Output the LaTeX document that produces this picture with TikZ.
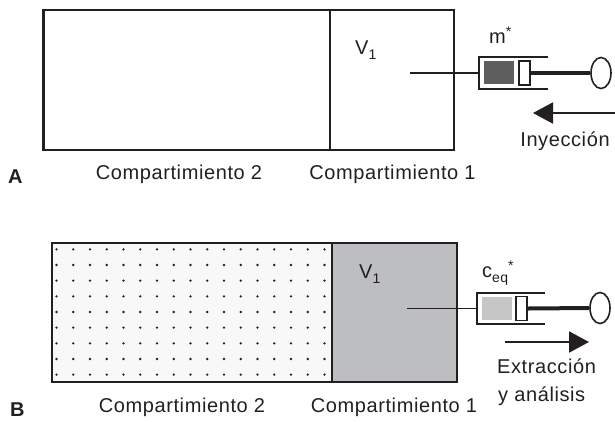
\documentclass[tikz,border=0pt]{standalone}
\usepackage{fontspec}
\usetikzlibrary{arrows.meta,shapes.geometric}
\newfontfamily\lbfont[LetterSpace=3]{Liberation Sans}
\newcommand{\mysub}[1]{\raisebox{-5pt}{\fontsize{14}{16}\selectfont #1}}
\newcommand{\mysup}[1]{\raisebox{6.5pt}{\fontsize{14}{16}\selectfont #1}}
\definecolor{txt}{HTML}{231F20}
\definecolor{grayB}{HTML}{BDBEC0}
\definecolor{dotbg}{HTML}{F8F8F8}
\definecolor{syrA}{HTML}{5E5E5E}
\definecolor{syrB}{HTML}{C6C6C6}
\tikzset{
  lbl/.style={font=\lbfont\fontsize{20}{23}\selectfont, text=txt, inner sep=0pt, anchor=base},
  lblw/.style={lbl, anchor=base west},
  boxline/.style={draw=txt, line width=2.3pt},
  barrel/.style={draw=txt, line width=2pt},
  plunger/.style={draw=txt, fill=white, line width=1.6pt},
  rod/.style={draw=txt, line width=4pt},
  ring/.style={draw=txt, line width=1.6pt, fill=white},
  tube/.style={draw=txt, line width=1.5pt},
  flow/.style={draw=txt, line width=2pt, -{Triangle[length=20pt,width=21pt]}},
}
\begin{document}
\begin{tikzpicture}[x=1pt,y=-1pt]
\useasboundingbox (0,0) rectangle (615,421);
% ---------- Panel A ----------
\draw[boxline] (43.5,10) rectangle (454,150);
\draw[boxline] (330,10) -- (330,150);
\node[lblw] (vA) at (355,54) {V\mysub{1}};
\coordinate (tubeA) at (410,73);
% syringe A
\fill[syrA] (484,61) rectangle (514,84);
\draw[barrel] (548,57) -- (479,57) -- (479,88.5) -- (548,88.5);
\node[plunger, minimum width=11pt, minimum height=24pt, inner sep=0pt] (plA) at (524.5,73) {};
\coordinate (barA) at (479,73);
\draw[tube] (tubeA) -- (barA);
\node[ring, ellipse, minimum width=20pt, minimum height=31pt, inner sep=0pt] (ringA) at (601,73) {};
\draw[rod] (plA.east) -- (ringA.west);
\node[lblw] (mA) at (489,43) {m\mysup{*}};
\coordinate (arrAs) at (615,113);
\coordinate (arrAe) at (533,113);
\draw[flow] (arrAs) -- (arrAe);
\node[lbl] (iny) at (565,146) {Inyección};
\node[lbl] (c2A) at (179,179) {Compartimiento 2};
\node[lbl] (c1A) at (392.5,179) {Compartimiento 1};
\node[lblw, font=\lbfont\bfseries\fontsize{20}{23}\selectfont] (labA) at (8,183) {A};
% ---------- Panel B ----------
\fill[dotbg] (51.7,243.3) rectangle (332.3,382.3);
\fill[grayB] (332.3,243.3) rectangle (456.7,382.3);
\foreach \i in {0,...,16}{
  \foreach \j in {0,...,8}{
    \fill[txt] (56.5+\i*16.75, 249.3+\j*15.67) circle[radius=1.3pt];
  }
}
\draw[boxline] (51.7,243.3) rectangle (456.7,382.3);
\draw[boxline] (332.3,243.3) -- (332.3,382.3);
\node[lblw] (vB) at (359,278) {V\mysub{1}};
\coordinate (tubeB) at (407,308.5);
% syringe B
\fill[syrB] (482,297) rectangle (512,320);
\draw[barrel] (545,292.5) -- (477,292.5) -- (477,323.5) -- (545,323.5);
\node[plunger, minimum width=11pt, minimum height=24pt, inner sep=0pt] (plB) at (521.5,308.5) {};
\coordinate (barB) at (477,308.5);
\draw[tube] (tubeB) -- (barB);
\node[ring, ellipse, minimum width=20pt, minimum height=31pt, inner sep=0pt] (ringB) at (600,308) {};
\draw[rod] (plB.east) -- (ringB.west);
\node[lblw] (cB) at (482,277) {c\mysub{eq}\mysup{*}};
\coordinate (arrBs) at (505,342);
\coordinate (arrBe) at (589,342);
\draw[flow] (arrBs) -- (arrBe);
\node[lblw] (ext) at (497,373) {Extracción};
\node[lblw] (ana) at (498,401) {y análisis};
\node[lbl] (c2B) at (182,412) {Compartimiento 2};
\node[lbl] (c1B) at (394,412) {Compartimiento 1};
\node[lblw, font=\lbfont\bfseries\fontsize{20}{23}\selectfont] (labB) at (10,416) {B};
\end{tikzpicture}
\end{document}
